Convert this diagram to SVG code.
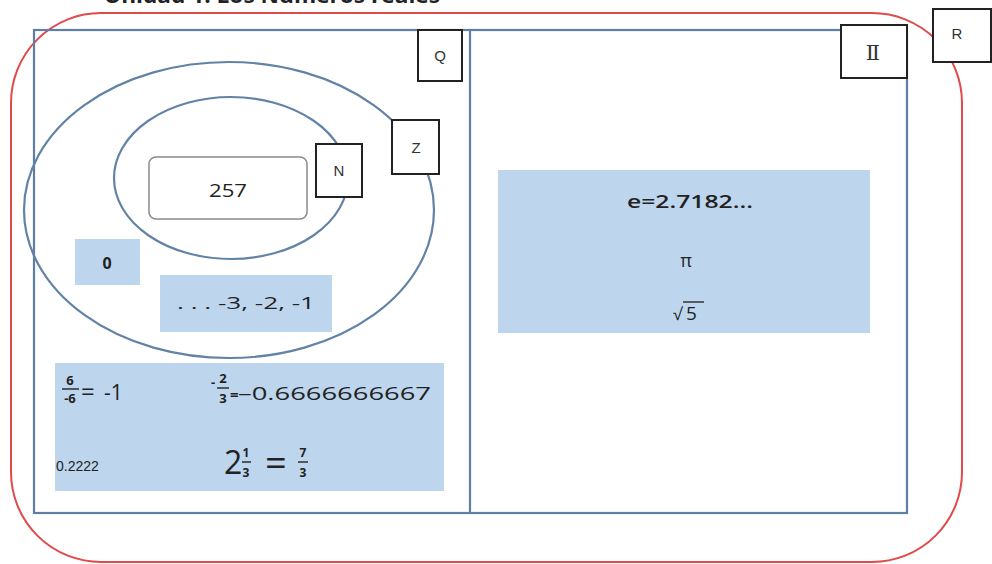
<svg xmlns="http://www.w3.org/2000/svg" width="992" height="564" viewBox="0 0 992 564">
  <style>
    .txt { font-family: "Open Sans", "Liberation Sans", sans-serif; fill: #222; }
    .lbl { font-family: "Liberation Sans", sans-serif; font-size: 15px; fill: #333; text-anchor: middle; }
    .tag { fill: #fff; stroke: #222; stroke-width: 2; }
    .set { fill: none; stroke: #6283a6; stroke-width: 2.2; }
    .panel { fill: #bdd6ee; }
    .bar { stroke: #222; stroke-width: 1.4; }
  </style>

  <rect width="992" height="564" fill="#fff"/>

  <!-- heading, running off the top edge -->
  <text x="104" y="3" class="txt" font-size="21" font-weight="bold" textLength="336" lengthAdjust="spacingAndGlyphs">Unidad 1: Los Números reales</text>

  <!-- R: real numbers -->
  <g id="set-R">
    <rect x="11" y="13" width="951" height="549" rx="90" ry="90" fill="none" stroke="#e04a4a" stroke-width="2"/>
  </g>

  <!-- Q / I frame -->
  <g id="frame">
    <rect x="34" y="30" width="873" height="483" fill="none" stroke="#5f7ea4" stroke-width="2.2"/>
    <line x1="470" y1="30" x2="470" y2="513" stroke="#5f7ea4" stroke-width="2.2"/>
  </g>

  <!-- Z and N ellipses -->
  <g id="set-Z">
    <ellipse cx="229" cy="210" rx="205" ry="148" class="set"/>
  </g>
  <g id="set-N">
    <ellipse cx="231" cy="178" rx="117" ry="81" class="set"/>
  </g>

  <!-- natural number example -->
  <g id="val-257">
    <rect x="149" y="157" width="158" height="62" rx="7" fill="#fff" stroke="#8a8a8a" stroke-width="1.5"/>
    <text x="228" y="197" class="txt" font-size="19" text-anchor="middle" textLength="38" lengthAdjust="spacingAndGlyphs">257</text>
  </g>

  <!-- zero -->
  <g id="val-zero">
    <rect x="75" y="239" width="65" height="46" class="panel"/>
    <text x="107" y="269" class="txt" font-size="16" text-anchor="middle" font-weight="bold">0</text>
  </g>

  <!-- negative integers -->
  <g id="val-negatives">
    <rect x="160" y="275" width="172" height="57" class="panel"/>
    <text x="246" y="309" class="txt" font-size="16" text-anchor="middle" textLength="138" lengthAdjust="spacingAndGlyphs">. . . -3,  -2,  -1</text>
  </g>

  <!-- rational examples -->
  <g id="val-rationals">
    <rect x="55" y="363" width="389" height="128" class="panel"/>
    <!-- 6/-6 = -1 -->
    <text x="70" y="385" class="txt" font-size="13" font-weight="bold" text-anchor="middle">6</text>
    <line x1="62" y1="389" x2="79" y2="389" class="bar"/>
    <text x="70" y="403" class="txt" font-size="13" font-weight="bold" text-anchor="middle">-6</text>
    <text x="81" y="400" class="txt" font-size="24">=</text>
    <text x="104" y="400" class="txt" font-size="21">-1</text>
    <!-- -2/3 = -0.6666666667 -->
    <text x="211" y="387" class="txt" font-size="13" font-weight="bold">-</text>
    <text x="223" y="383" class="txt" font-size="13" font-weight="bold" text-anchor="middle">2</text>
    <line x1="217" y1="388" x2="229" y2="388" class="bar"/>
    <text x="223" y="403" class="txt" font-size="13" font-weight="bold" text-anchor="middle">3</text>
    <text x="230" y="400" class="txt" font-size="15" font-weight="bold">=</text>
    <text x="238" y="400" class="txt" font-size="19" fill="#444" textLength="193" lengthAdjust="spacingAndGlyphs">–0.6666666667</text>
    <!-- 0.2222 -->
    <text x="56" y="471" font-family="Liberation Sans, sans-serif" font-size="14" fill="#222">0.2222</text>
    <!-- 2 1/3 = 7/3 -->
    <text x="224" y="474" class="txt" font-size="32">2</text>
    <text x="246" y="457" class="txt" font-size="12" font-weight="bold" text-anchor="middle">1</text>
    <line x1="242" y1="462" x2="251" y2="462" class="bar"/>
    <text x="246" y="477" class="txt" font-size="12" font-weight="bold" text-anchor="middle">3</text>
    <text x="265" y="476" class="txt" font-size="38">=</text>
    <text x="303" y="457" class="txt" font-size="12" font-weight="bold" text-anchor="middle">7</text>
    <line x1="298" y1="462" x2="308" y2="462" class="bar"/>
    <text x="303" y="477" class="txt" font-size="12" font-weight="bold" text-anchor="middle">3</text>
  </g>

  <!-- irrational examples -->
  <g id="val-irrationals">
    <rect x="498" y="170" width="372" height="163" class="panel"/>
    <text x="627" y="208" class="txt" font-size="18" font-weight="600" textLength="126" lengthAdjust="spacingAndGlyphs">e=2.7182...</text>
    <text x="686" y="267" class="txt" font-size="18" text-anchor="middle">π</text>
    <text x="673" y="320" class="txt" font-size="17">√</text>
    <line x1="683" y1="302" x2="704" y2="302" stroke="#333" stroke-width="1.5"/>
    <text x="686" y="320" class="txt" font-size="19">5</text>
  </g>

  <!-- set labels -->
  <g id="label-Q">
    <rect x="418" y="30" width="44" height="51" class="tag"/>
    <text x="440" y="61" class="lbl">Q</text>
  </g>
  <g id="label-Z">
    <rect x="392" y="120" width="47" height="54" class="tag"/>
    <text x="416" y="153" class="lbl">Z</text>
  </g>
  <g id="label-N">
    <rect x="316" y="144" width="46" height="53" class="tag"/>
    <text x="339" y="176" class="lbl">N</text>
  </g>
  <g id="label-I">
    <rect x="841" y="25" width="66" height="53" class="tag"/>
    <text x="873" y="60" font-family="DejaVu Serif, serif" font-size="21" fill="#333" text-anchor="middle">Ⅱ</text>
  </g>
  <g id="label-R">
    <rect x="933" y="9" width="58" height="53" class="tag"/>
    <text x="957" y="39" class="lbl">R</text>
  </g>
</svg>
